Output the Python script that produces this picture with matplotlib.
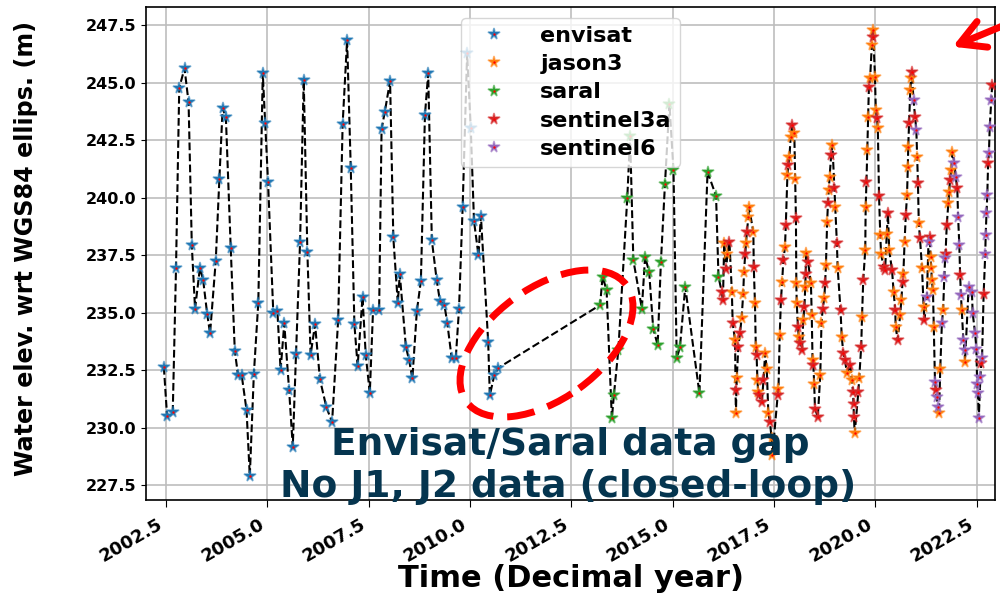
import numpy as np
import matplotlib
matplotlib.use("Agg")
import matplotlib.pyplot as plt
from matplotlib.patches import Ellipse, FancyArrowPatch
from matplotlib.colors import to_rgba
from matplotlib.transforms import IdentityTransform

plt.rcParams["font.family"] = ["DejaVu Sans"]

# ---- water level time series per mission (decimal year, metres) ----
envisat_t = [2002.45, 2002.53, 2002.67, 2002.75, 2002.83, 2002.96, 2003.06, 2003.14, 2003.22, 2003.34,
             2003.42, 2003.52, 2003.59, 2003.73, 2003.82, 2003.90, 2003.98, 2004.10, 2004.20, 2004.28,
             2004.37, 2004.49, 2004.57, 2004.67, 2004.78, 2004.89, 2004.95, 2005.02, 2005.15, 2005.25,
             2005.33, 2005.42, 2005.54, 2005.63, 2005.71, 2005.81, 2005.90, 2005.99, 2006.07, 2006.18,
             2006.30, 2006.46, 2006.60, 2006.75, 2006.86, 2006.97, 2007.06, 2007.15, 2007.23, 2007.35,
             2007.43, 2007.53, 2007.61, 2007.76, 2007.82, 2007.90, 2008.03, 2008.11, 2008.22, 2008.27,
             2008.42, 2008.50, 2008.58, 2008.69, 2008.79, 2008.89, 2008.97, 2009.06, 2009.18, 2009.26,
             2009.37, 2009.44, 2009.55, 2009.65, 2009.73, 2009.82, 2009.93, 2010.02, 2010.10, 2010.21,
             2010.27, 2010.45, 2010.49, 2010.60, 2010.70]
envisat_h = [232.64, 230.51, 230.69, 236.92, 244.77, 245.62, 244.14, 237.92, 235.17, 236.95,
             236.41, 234.93, 234.10, 237.25, 240.82, 243.88, 243.49, 237.79, 233.34, 232.28,
             232.28, 230.76, 227.89, 232.33, 235.44, 245.40, 243.23, 240.69, 234.97, 235.08,
             232.50, 234.53, 231.63, 229.17, 233.20, 238.07, 245.11, 237.64, 233.17, 234.49,
             232.10, 230.88, 230.25, 234.70, 243.20, 246.85, 241.30, 234.49, 232.67, 235.69,
             233.15, 231.51, 235.11, 235.11, 242.97, 243.73, 245.07, 238.27, 235.43, 236.67,
             233.51, 232.93, 232.14, 235.07, 236.38, 243.59, 245.40, 238.15, 236.41, 235.50,
             235.33, 234.57, 233.01, 233.01, 235.15, 239.60, 246.27, 243.03, 238.98, 237.49,
             239.21, 233.73, 231.41, 232.28, 232.60]

saral_t = [2013.21, 2013.27, 2013.37, 2013.50, 2013.55, 2013.66, 2013.88, 2013.95, 2014.03, 2014.24,
           2014.32, 2014.42, 2014.52, 2014.63, 2014.71, 2014.81, 2014.92, 2015.02, 2015.10, 2015.18,
           2015.31, 2015.66, 2015.86, 2016.07, 2016.13]
saral_h = [235.33, 236.56, 235.98, 230.40, 231.41, 233.37, 239.97, 242.67, 237.28, 235.18,
           237.43, 236.77, 234.31, 233.59, 237.21, 240.59, 244.07, 241.20, 233.01, 233.51,
           236.12, 231.49, 241.12, 240.07, 236.56]

jason3_t = [2016.27, 2016.35, 2016.46, 2016.54, 2016.56, 2016.58, 2016.70, 2016.74, 2016.76, 2016.81,
            2016.87, 2016.88, 2016.99, 2017.03, 2017.05, 2017.09, 2017.11, 2017.28, 2017.32, 2017.36,
            2017.44, 2017.46, 2017.61, 2017.64, 2017.70, 2017.77, 2017.83, 2017.88, 2017.91, 2018.00,
            2018.02, 2018.05, 2018.06, 2018.11, 2018.22, 2018.27, 2018.29, 2018.41, 2018.43, 2018.45,
            2018.49, 2018.64, 2018.67, 2018.74, 2018.78, 2018.81, 2018.85, 2018.87, 2018.94, 2019.01,
            2019.07, 2019.17, 2019.30, 2019.42, 2019.49, 2019.60, 2019.67, 2019.75, 2019.76, 2019.80,
            2019.82, 2019.87, 2019.91, 2019.93, 2019.99, 2020.01, 2020.06, 2020.12, 2020.14, 2020.28,
            2020.34, 2020.45, 2020.50, 2020.61, 2020.64, 2020.69, 2020.72, 2020.78, 2020.80, 2020.81,
            2020.86, 2020.88, 2021.03, 2021.07, 2021.15, 2021.19, 2021.36, 2021.38, 2021.39, 2021.42,
            2021.44, 2021.57, 2021.60, 2021.67, 2021.80, 2021.82, 2021.87, 2021.90, 2022.13, 2022.21]
jason3_h = [238.01, 237.57, 235.90, 233.80, 230.62, 232.14, 234.75, 235.83, 236.77, 238.01,
            239.17, 239.60, 238.51, 235.40, 233.51, 232.07, 231.56, 233.23, 232.57, 230.62,
            229.53, 228.80, 231.70, 234.02, 236.34, 237.86, 240.98, 241.77, 242.64, 242.79,
            240.83, 236.27, 235.40, 233.95, 234.67, 236.12, 237.60, 236.27, 234.89, 232.93,
            231.92, 232.28, 234.53, 235.62, 237.07, 238.95, 240.33, 240.90, 242.28, 239.60,
            236.92, 233.95, 232.36, 232.07, 229.75, 232.14, 234.82, 237.72, 239.60, 242.07,
            243.51, 245.18, 246.63, 247.28, 245.25, 243.80, 243.01, 238.37, 237.57, 238.44,
            237.72, 235.90, 234.38, 234.89, 235.54, 236.70, 238.08, 240.11, 241.34, 242.21,
            244.67, 245.18, 241.77, 238.88, 236.92, 235.25, 237.43, 236.92, 236.41, 235.98,
            234.38, 230.62, 232.57, 235.11, 239.75, 240.25, 241.20, 241.99, 235.11, 232.86]

sentinel3a_t = [2016.21, 2016.24, 2016.32, 2016.40, 2016.48, 2016.55, 2016.62, 2016.66, 2016.79, 2016.83,
                2017.00, 2017.07, 2017.13, 2017.20, 2017.24, 2017.40, 2017.59, 2017.67, 2017.73, 2017.79,
                2017.85, 2017.95, 2018.04, 2018.09, 2018.14, 2018.19, 2018.25, 2018.28, 2018.34, 2018.47,
                2018.51, 2018.58, 2018.70, 2018.76, 2018.83, 2018.91, 2018.99, 2019.05, 2019.14, 2019.21,
                2019.25, 2019.38, 2019.45, 2019.46, 2019.47, 2019.58, 2019.65, 2019.70, 2019.78, 2019.84,
                2019.95, 2020.04, 2020.09, 2020.20, 2020.24, 2020.31, 2020.41, 2020.49, 2020.55, 2020.67,
                2020.75, 2020.83, 2020.90, 2020.98, 2021.05, 2021.10, 2021.21, 2021.34, 2021.49, 2021.73,
                2021.76, 2021.84, 2022.02, 2022.09, 2022.61, 2022.67, 2022.78, 2022.88]
sentinel3a_h = [235.90, 235.54, 236.88, 238.08, 234.53, 231.63, 233.51, 234.10, 237.57, 238.51,
                236.99, 233.15, 231.41, 231.12, 232.07, 230.25, 231.41, 235.54, 237.28, 238.80,
                241.41, 243.15, 239.10, 234.38, 233.66, 233.37, 235.25, 236.70, 237.21, 232.72,
                230.83, 230.47, 235.18, 236.27, 239.75, 241.85, 240.40, 238.01, 235.11, 233.23,
                232.93, 232.72, 231.56, 231.05, 230.47, 231.56, 233.51, 236.41, 240.69, 244.82,
                246.97, 243.44, 240.07, 236.99, 236.85, 239.31, 236.85, 235.11, 233.80, 236.34,
                239.24, 243.23, 245.47, 243.51, 240.62, 238.23, 234.67, 238.30, 231.63, 237.57,
                238.80, 240.76, 240.40, 236.63, 232.79, 235.83, 241.49, 244.89]

sentinel6_t = [2020.94, 2021.01, 2021.27, 2021.31, 2021.47, 2021.51, 2021.54, 2021.64, 2021.70, 2021.72,
               2021.95, 2021.98, 2022.04, 2022.07, 2022.11, 2022.17, 2022.20, 2022.30, 2022.38, 2022.40,
               2022.46, 2022.49, 2022.51, 2022.53, 2022.55, 2022.59, 2022.63, 2022.71, 2022.72, 2022.74,
               2022.76, 2022.80, 2022.82, 2022.86]
sentinel6_h = [244.24, 242.93, 235.69, 238.08, 231.99, 231.34, 230.90, 234.53, 236.56, 237.36,
               241.49, 240.90, 239.17, 237.93, 235.76, 233.80, 233.37, 236.12, 235.90, 234.97,
               234.10, 233.44, 231.92, 231.49, 230.40, 232.21, 233.02, 237.57, 238.37, 239.31,
               240.11, 241.92, 243.08, 244.24]

missions = ["envisat", "jason3", "saral", "sentinel3a", "sentinel6"]
times = [envisat_t, jason3_t, saral_t, sentinel3a_t, sentinel6_t]
levels = [envisat_h, jason3_h, saral_h, sentinel3a_h, sentinel6_h]
colors = ["#1f77b4", "#ff7f0e", "#2ca02c", "#d62728", "#9467bd"]

x_ticks = [2002.5, 2005.0, 2007.5, 2010.0, 2012.5, 2015.0, 2017.5, 2020.0, 2022.5]
y_ticks = [227.5, 230.0, 232.5, 235.0, 237.5, 240.0, 242.5, 245.0, 247.5]

# ---- figure ----
fig = plt.figure(figsize=(10, 5.94), dpi=100)
ax = fig.add_axes([0.146, 0.158, 0.849, 0.830])

# merged series, joined in time order by the dashed line
all_t = np.concatenate([np.asarray(t) for t in times])
all_h = np.concatenate([np.asarray(h) for h in levels])
order = np.argsort(all_t, kind="stable")
ax.plot(all_t[order], all_h[order], "k--", lw=1.5, zorder=2)

handles = []
for name, t, h, c in zip(missions, times, levels, colors):
    star, = ax.plot(t, h, ls="none", marker="*", ms=8.5, color=c,
                    mec=to_rgba(c, 0.5), mew=1.2, zorder=3)
    dot, = ax.plot(t, h, ls="none", marker="o", ms=1.7, mew=0, color="red", zorder=4)
    handles.append((star, dot))

ax.set_xlim(2002.01, 2022.95)
ax.set_ylim(226.85, 248.28)
ax.set_xticks(x_ticks, labels=[f"{v:.1f}" for v in x_ticks], rotation=30, ha="right",
              fontsize=13, fontweight="bold")
ax.set_yticks(y_ticks, labels=[f"{v:.1f}" for v in y_ticks], fontsize=11.5, fontweight="bold")
ax.tick_params(axis="x", length=5, pad=6)
ax.grid(True, color="#bdbdbd", lw=1.2)
ax.set_axisbelow(True)
for s in ax.spines.values():
    s.set_linewidth(1.2)

ax.set_ylabel("Water elev. wrt WGS84 ellips. (m)", fontsize=17.2, fontweight="bold")
ax.yaxis.set_label_coords(-0.127, 0.511)
ax.set_xlabel("Time (Decimal year)", fontsize=22, fontweight="bold")
ax.xaxis.set_label_coords(0.5, -0.130)

ax.legend(handles, missions, loc="upper center", prop={"weight": "bold", "size": 16},
          labelspacing=0.37, handlelength=2.2, handletextpad=1.0, borderpad=0.35,
          framealpha=0.8)

# ---- annotations ----
navy = "#05354f"
fig.text(0.570, 0.234, "Envisat/Saral data gap", ha="center", va="baseline",
         fontsize=27, fontweight="bold", color=navy)
fig.text(0.568, 0.163, "No J1, J2 data (closed-loop)", ha="center", va="baseline",
         fontsize=27, fontweight="bold", color=navy)

gap_ring = Ellipse((546.5, 250.5), 198, 111, angle=36, fill=False, edgecolor="red",
                   lw=5, linestyle=(0, (4, 2)), transform=IdentityTransform(), zorder=6)
fig.add_artist(gap_ring)

pointer = FancyArrowPatch((1012, 572), (952.7, 547.3), arrowstyle="->,head_length=0.9,head_width=0.5",
                          mutation_scale=20, lw=5, color="red", shrinkA=0, shrinkB=0,
                          transform=IdentityTransform(), zorder=6)
fig.add_artist(pointer)

fig.savefig("out.png", dpi=100)
